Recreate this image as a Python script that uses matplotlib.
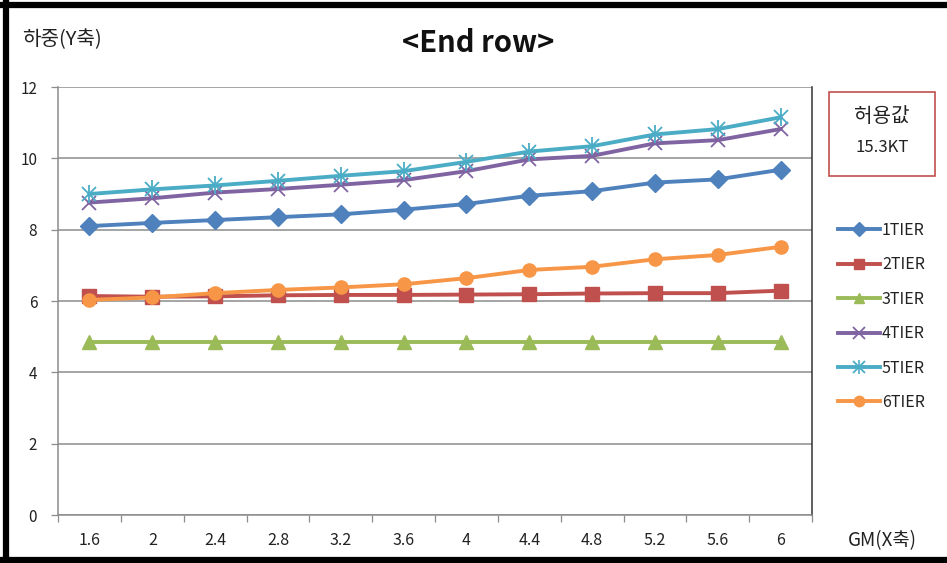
import matplotlib
matplotlib.use("Agg")
import matplotlib.pyplot as plt
from matplotlib.lines import Line2D
from matplotlib.patches import Rectangle
from matplotlib.legend_handler import HandlerTuple

plt.rcParams['font.family'] = ['Noto Sans CJK KR', 'DejaVu Sans']

gm_labels = ["1.6", "2", "2.4", "2.8", "3.2", "3.6", "4", "4.4", "4.8", "5.2", "5.6", "6"]

tier1 = [8.10, 8.19, 8.27, 8.35, 8.43, 8.56, 8.72, 8.95, 9.08, 9.32, 9.41, 9.68]
tier2 = [6.14, 6.12, 6.13, 6.16, 6.17, 6.17, 6.18, 6.19, 6.21, 6.22, 6.22, 6.29]
tier3 = [4.85, 4.85, 4.85, 4.85, 4.85, 4.85, 4.85, 4.85, 4.85, 4.85, 4.85, 4.85]
tier4 = [8.76, 8.88, 9.04, 9.14, 9.26, 9.39, 9.64, 9.97, 10.07, 10.42, 10.51, 10.82]
tier5 = [9.00, 9.13, 9.24, 9.37, 9.51, 9.64, 9.90, 10.19, 10.34, 10.67, 10.82, 11.15]
tier6 = [6.03, 6.10, 6.22, 6.31, 6.38, 6.47, 6.64, 6.87, 6.96, 7.17, 7.29, 7.52]

series_names = ["1TIER", "2TIER", "3TIER", "4TIER", "5TIER", "6TIER"]
y_ticks = [0, 2, 4, 6, 8, 10, 12]

title_text = "<End row>"
y_title = "하중(Y축)"
x_title = "GM(X축)"
limit_lines = ["허용값", "15.3KT"]

colors = ["#4F81BD", "#C0504D", "#9BBB59", "#8064A2", "#4BACC6", "#F79646"]
text_color = "#222222"

fig = plt.figure(figsize=(9.47, 5.63), dpi=100)
ax = fig.add_axes([58/947, 48/563, (812-58)/947, (515-87)/563])

x = list(range(len(gm_labels)))
lw = 2.8
styles = [
    dict(marker='D', ms=9),
    dict(marker='s', ms=9.5),
    dict(marker='^', ms=9.5),
    dict(marker='x', ms=10, mew=1.3),
    dict(marker='x', ms=10, mew=1.3),
    dict(marker='o', ms=9.5),
]
series = [tier1, tier2, tier3, tier4, tier5, tier6]
zorders = [5, 4, 4, 5, 6, 5]
for vals, c, st, z in zip(series, colors, styles, zorders):
    ax.plot(x, vals, color=c, lw=lw, zorder=z, **st)
# vertical stroke that turns the 5TIER cross into an asterisk
ax.plot(x, tier5, color=colors[4], lw=0, marker='|', ms=13, mew=1.3, zorder=6)

ax.set_xlim(-0.5, len(gm_labels) - 0.5)
ax.set_ylim(0, 12)
ax.set_yticks(y_ticks)
ax.set_yticklabels([str(v) for v in y_ticks], fontsize=11, color=text_color)
ax.set_xticks(x)
ax.set_xticklabels(gm_labels, fontsize=11.5, color=text_color)
ax.set_xticks([i - 0.5 for i in range(len(gm_labels) + 1)], minor=True)
ax.tick_params(axis='x', which='major', length=0, pad=12)
ax.tick_params(axis='x', which='minor', length=5, width=0.9, color="#8c8c8c", direction='out')
ax.tick_params(axis='y', length=5, width=0.9, color="#8c8c8c", direction='out', pad=10)
ax.grid(axis='y', color="#8c8c8c", lw=1.1)
ax.set_axisbelow(True)
for side in ['left', 'bottom']:
    ax.spines[side].set_color("#8c8c8c")
    ax.spines[side].set_linewidth(1.1)
ax.spines['top'].set_visible(False)
ax.spines['right'].set_color("#333333")
ax.spines['right'].set_linewidth(1.1)

fig.text(478/947, 1 - 43/563, title_text, fontsize=21, fontweight='bold',
         ha='center', va='center', color="#111111")
fig.text(22/947, 1 - 40/563, y_title, fontsize=14.5, ha='left', va='center', color=text_color)
fig.text(848/947, 1 - 541/563, x_title, fontsize=13.5, ha='left', va='center', color=text_color)

# allowance box
fig.add_artist(Rectangle((829/947, 1 - 176/563), 106/947, 84/563,
                         transform=fig.transFigure, fill=False,
                         edgecolor="#C0504D", lw=1.2))
fig.text(882/947, 1 - 116/563, limit_lines[0], fontsize=14.5, ha='center', va='center', color=text_color)
fig.text(882/947, 1 - 147/563, limit_lines[1], fontsize=12, ha='center', va='center', color=text_color)

# legend with smaller markers
leg_handles = []
leg_sizes = [7, 7.5, 7.5, 8, 8, 7.5]
for i, (c, st) in enumerate(zip(colors, styles)):
    st = dict(st)
    st['ms'] = leg_sizes[i]
    h = Line2D([], [], color=c, lw=lw, **st)
    if i == 4:
        hb = Line2D([], [], color=c, lw=0, marker='|', ms=10, mew=1.2)
        h = (h, hb)
    leg_handles.append(h)
leg = fig.legend(leg_handles, series_names,
                 loc='upper left', bbox_to_anchor=(838/947, 1 - 222/563),
                 frameon=False, fontsize=11.5, handlelength=2.6, handletextpad=0.15,
                 labelspacing=1.09, borderaxespad=0, borderpad=0,
                 handler_map={tuple: HandlerTuple(ndivide=1, pad=0)})
for t in leg.get_texts():
    t.set_color(text_color)

# outer frame
frame_kw = dict(transform=fig.transFigure, color="black", lw=4.5, solid_capstyle='butt')
fig.add_artist(Line2D([6/947, 6/947], [0, 1], **frame_kw))
fig.add_artist(Line2D([0, 1], [1 - 5/563, 1 - 5/563], **frame_kw))
fig.add_artist(Line2D([0, 1], [1 - 560/563, 1 - 560/563], **frame_kw))

fig.savefig("out.png", dpi=100)
